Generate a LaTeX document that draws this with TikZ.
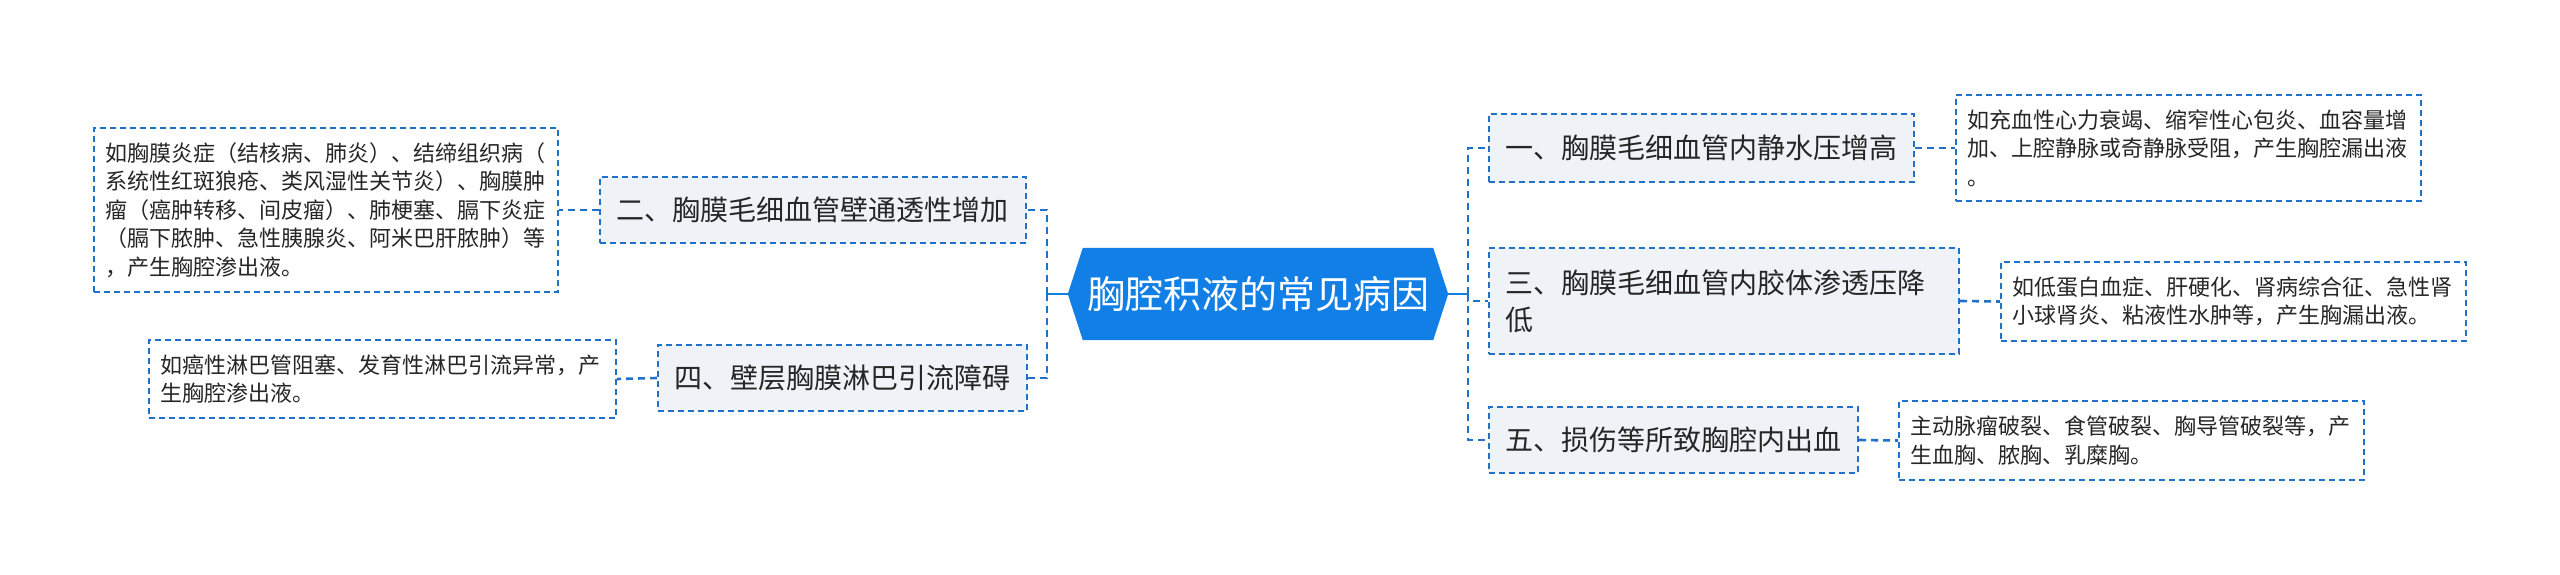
\documentclass[tikz,border=0pt]{standalone}
\usepackage{fontspec}
\setmainfont{Noto Sans CJK SC}
\usetikzlibrary{backgrounds}
\definecolor{linkblue}{RGB}{31,113,201}
\definecolor{corefill}{RGB}{18,127,230}
\definecolor{topicfill}{RGB}{239,242,246}
\definecolor{inkgray}{RGB}{38,38,38}

\begin{document}
\begin{tikzpicture}[x=1pt,y=-1pt,
  core/.style={minimum width=380pt,minimum height=92pt,inner sep=0pt,text=white,
    font=\fontsize{38}{46}\selectfont},
  topic/.style={draw=linkblue,line width=2pt,dash pattern=on 6pt off 4pt,fill=topicfill,
    text=inkgray,align=left,inner xsep=16pt,inner ysep=0pt,font=\fontsize{28}{37}\selectfont},
  detail/.style={draw=linkblue,line width=1.8pt,dash pattern=on 6pt off 4pt,fill=white,
    text=inkgray,align=left,inner xsep=11pt,inner ysep=0pt,font=\fontsize{22}{28.5}\selectfont},
  trunk/.style={draw=corefill,line width=2.6pt},
  branch/.style={draw=linkblue,line width=2.6pt,dash pattern=on 7pt off 5pt}]
  \useasboundingbox (0,0) rectangle (2560,575);

  \node[core] (cause) at (1258,294) {胸腔积液的常见病因};
  \begin{scope}[on background layer]
    \fill[corefill] (cause.west) -- ([xshift=15pt]cause.north west) -- ([xshift=-15pt]cause.north east)
      -- (cause.east) -- ([xshift=-15pt]cause.south east) -- ([xshift=15pt]cause.south west) -- cycle;
  \end{scope}

  \node[topic,text width=393pt,minimum height=68pt] (hydro) at (1701.5,148) {一、胸膜毛细血管内静水压增高};
  \node[topic,text width=438pt,minimum height=106pt] (oncotic) at (1724,301) {三、胸膜毛细血管内胶体渗透压降\\低};
  \node[topic,text width=337pt,minimum height=66pt] (bleed) at (1673.5,440) {五、损伤等所致胸腔内出血};
  \node[topic,text width=394pt,minimum height=66pt] (perm) at (813,210) {二、胸膜毛细血管壁通透性增加};
  \node[topic,text width=337pt,minimum height=66pt] (lymph) at (842.5,378) {四、壁层胸膜淋巴引流障碍};

  \node[detail,text width=443pt,minimum height=106pt] (hydrodet) at (2188.5,148)
    {如充血性心力衰竭、缩窄性心包炎、血容量增\\加、上腔静脉或奇静脉受阻，产生胸腔漏出液\\。};
  \node[detail,text width=443pt,minimum height=79pt] (oncoticdet) at (2233.5,301.5)
    {如低蛋白血症、肝硬化、肾病综合征、急性肾\\小球肾炎、粘液性水肿等，产生胸漏出液。};
  \node[detail,text width=443pt,minimum height=79pt] (bleeddet) at (2131.5,440.5)
    {主动脉瘤破裂、食管破裂、胸导管破裂等，产\\生血胸、脓胸、乳糜胸。};
  \node[detail,text width=442pt,minimum height=164pt] (permdet) at (326,210)
    {如胸膜炎症（结核病、肺炎）、结缔组织病（\\系统性红斑狼疮、类风湿性关节炎）、胸膜肿\\瘤（癌肿转移、间皮瘤）、肺梗塞、膈下炎症\\（膈下脓肿、急性胰腺炎、阿米巴肝脓肿）等\\，产生胸腔渗出液。};
  \node[detail,text width=445pt,minimum height=78pt] (lymphdet) at (382.5,379)
    {如癌性淋巴管阻塞、发育性淋巴引流异常，产\\生胸腔渗出液。};

  \coordinate (rjoint) at (1468,294);
  \coordinate (ljoint) at (1047,294);
  \draw[trunk] (cause.east) -- (rjoint);
  \draw[trunk] (cause.west) -- (ljoint);
  \draw[branch] (rjoint) |- (hydro.west);
  \draw[branch] (rjoint) |- (oncotic.west);
  \draw[branch] (rjoint) |- (bleed.west);
  \draw[branch] (ljoint) |- (perm.east);
  \draw[branch] (ljoint) |- (lymph.east);
  \draw[branch] (hydro.east) -- (hydrodet.west);
  \draw[branch] (oncotic.east) -- (oncoticdet.west);
  \draw[branch] (bleed.east) -- (bleeddet.west);
  \draw[branch] (perm.west) -- (permdet.east);
  \draw[branch] (lymph.west) -- (lymphdet.east);
\end{tikzpicture}
\end{document}
